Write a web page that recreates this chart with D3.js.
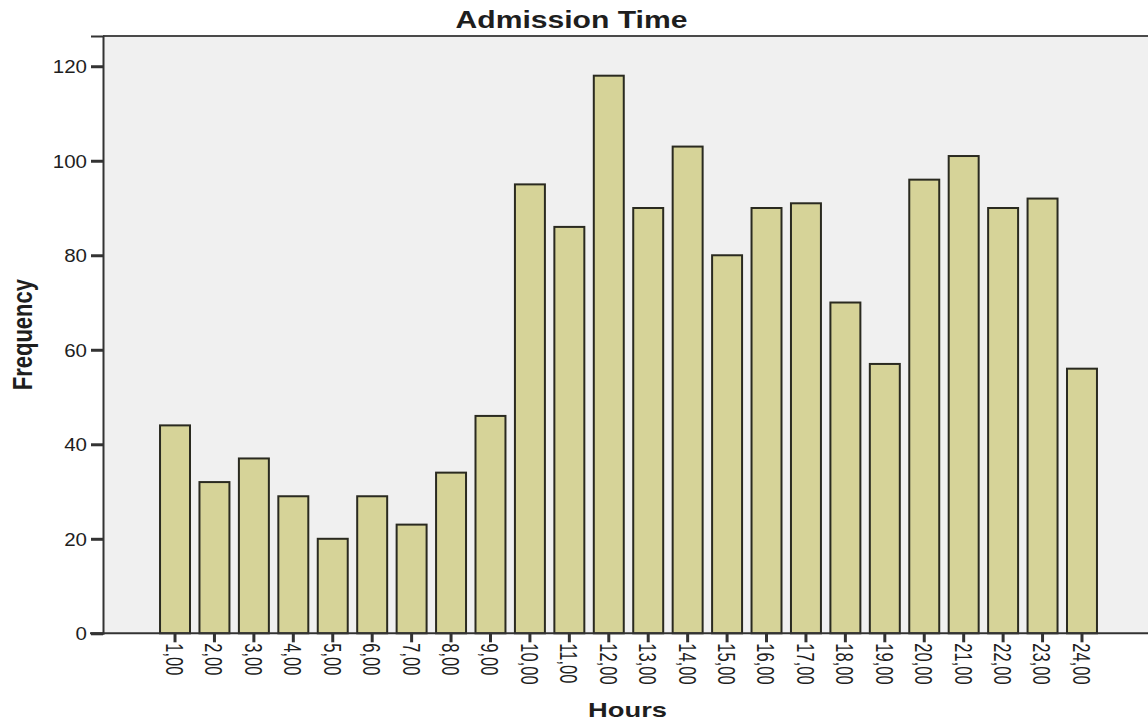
<!DOCTYPE html>
<html>
<head>
<meta charset="utf-8">
<script src="https://cdn.jsdelivr.net/npm/d3@7"></script>
<style>
  html, body { margin: 0; padding: 0; background: #fff; }
  svg { display: block; }
  text { font-family: "Liberation Sans", Arial, sans-serif; fill: #1e1e1e; }
</style>
</head>
<body>
<script>
const hours = ["1,00","2,00","3,00","4,00","5,00","6,00","7,00","8,00","9,00","10,00","11,00","12,00",
               "13,00","14,00","15,00","16,00","17,00","18,00","19,00","20,00","21,00","22,00","23,00","24,00"];
const frequency = [44, 32, 37, 29, 20, 29, 23, 34, 46, 95, 86, 118, 90, 103, 80, 90, 91, 70, 57, 96, 101, 90, 92, 56];
const yTicks = [0, 20, 40, 60, 80, 100, 120];
const chartTitle = "Admission Time";
const xTitle = "Hours";
const yTitle = "Frequency";

const W = 1148, H = 722;
const plot = { left: 103, right: 1148, top: 36, bottom: 633.3 };

const svg = d3.select("body").append("svg").attr("width", W).attr("height", H);

const x = d3.scaleBand()
  .domain(hours)
  .range([155.3, 1101.7])
  .paddingInner(0.24)
  .paddingOuter(0.12);

const y = d3.scaleLinear().domain([0, 126.4]).range([plot.bottom, plot.top]);

// plot background
svg.append("rect")
  .attr("x", plot.left).attr("y", plot.top)
  .attr("width", plot.right - plot.left).attr("height", plot.bottom - plot.top)
  .attr("fill", "#f0f0f0");

// bars
svg.append("g").selectAll("rect")
  .data(frequency)
  .join("rect")
  .attr("x", (d, i) => x(hours[i]))
  .attr("y", d => y(d))
  .attr("width", x.bandwidth())
  .attr("height", d => y(0) - y(d))
  .attr("fill", "#d6d398")
  .attr("stroke", "#2a2a20")
  .attr("stroke-width", 2);

// frame: top
svg.append("line").attr("x1", plot.left).attr("x2", plot.right)
  .attr("y1", plot.top).attr("y2", plot.top)
  .attr("stroke", "#4a4a4a").attr("stroke-width", 2);

// y axis
const yAxis = svg.append("g").attr("transform", `translate(${plot.left},0)`)
  .call(d3.axisLeft(y).tickValues(yTicks).tickSize(12).tickPadding(4).tickFormat(d3.format("d")));
yAxis.select(".domain").attr("stroke", "#333").attr("stroke-width", 2);
yAxis.selectAll(".tick line").attr("stroke", "#333").attr("stroke-width", 3);
yAxis.selectAll(".tick text")
  .attr("font-size", 18)
  .attr("fill", "#1e1e1e")
  .attr("x", null)
  .attr("dy", null)
  .attr("transform", "translate(-16,6.5) scale(1.14,1)");

// x axis
const xAxis = svg.append("g").attr("transform", `translate(0,${plot.bottom})`)
  .call(d3.axisBottom(x).tickSize(9).tickPadding(0));
xAxis.select(".domain").remove();
xAxis.selectAll(".tick line").attr("stroke", "#333").attr("stroke-width", 3);
xAxis.selectAll(".tick text")
  .attr("font-size", 16.5)
  .attr("fill", "#1e1e1e")
  .attr("y", null)
  .attr("text-anchor", "start")
  .attr("transform", "translate(-1,10) scale(1.4,1) rotate(90)")
  .attr("dy", "0.35em");

// baseline across the plot
svg.append("line")
  .attr("x1", 90).attr("x2", plot.right)
  .attr("y1", y(0)).attr("y2", y(0))
  .attr("stroke", "#333").attr("stroke-width", 2);

// titles
svg.append("text")
  .attr("x", 571.5).attr("y", 28)
  .attr("text-anchor", "middle")
  .attr("font-size", 23).attr("font-weight", "bold")
  .attr("textLength", 232).attr("lengthAdjust", "spacingAndGlyphs")
  .text(chartTitle);

svg.append("text")
  .attr("x", 627.5).attr("y", 717)
  .attr("text-anchor", "middle")
  .attr("font-size", 21).attr("font-weight", "bold")
  .attr("textLength", 79).attr("lengthAdjust", "spacingAndGlyphs")
  .text(xTitle);

svg.append("text")
  .attr("transform", `translate(32,${(plot.top + plot.bottom) / 2}) scale(1.25,1) rotate(-90)`)
  .attr("text-anchor", "middle")
  .attr("font-size", 22).attr("font-weight", "bold")
  .text(yTitle);
</script>
</body>
</html>
